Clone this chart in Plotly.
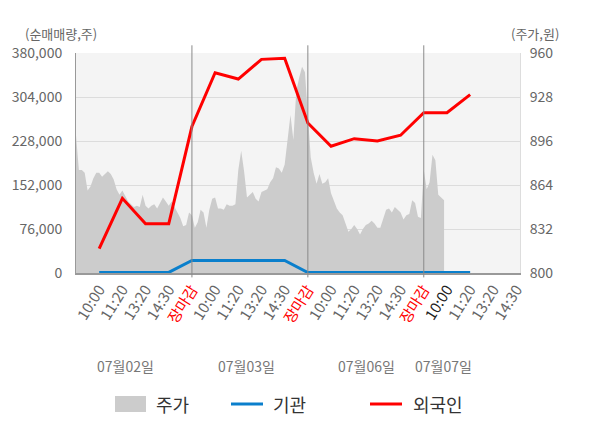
import numpy as np
import plotly.graph_objects as go

# x-axis slots (one per label) and the trading days
time_labels = ["10:00", "11:20", "13:20", "14:30", "장마감",
               "10:00", "11:20", "13:20", "14:30", "장마감",
               "10:00", "11:20", "13:20", "14:30", "장마감",
               "10:00", "11:20", "13:20", "14:30"]
dates = ["07월02일", "07월03일", "07월06일", "07월07일"]

# 순매매량 (주)
foreign = [42000, 129000, 85000, 85000, 253000, 346000, 335000, 369000, 371000,
           259000, 219000, 232000, 228000, 238000, 277000, 277000, 308000]
inst = [1000, 1000, 1000, 1000, 21600, 21600, 21600, 21600, 21600,
        800, 800, 800, 800, 800, 800, 800, 800]

# 주가 (원), sampled every 1/8 slot from the first day's open
price = [900, 875, 875, 873, 860, 863, 869, 873, 873, 870, 872, 874, 872, 868, 861, 857,
         860, 856, 852, 850, 848, 849, 848, 857, 849, 847, 849, 850, 847, 851, 855, 852,
         849, 852, 848, 844, 840, 834, 835, 844, 842, 833, 837, 846, 844, 833, 846, 854,
         855, 847, 847, 846, 850, 849, 849, 850, 875, 889, 874, 855, 857, 859, 854, 852,
         859, 860, 861, 866, 869, 877, 876, 873, 879, 897, 915, 897, 932, 942, 950, 946,
         911, 884, 873, 865, 872, 865, 866, 869, 858, 852, 847, 844, 842, 836, 830, 832,
         835, 832, 828, 832, 835, 836, 838, 836, 833, 833, 839, 846, 847, 844, 848, 846,
         844, 839, 842, 843, 853, 851, 841, 840, 875, 861, 866, 886, 882, 857, 855, 853]

slots = np.arange(len(time_labels))
price_x = np.arange(len(price)) * 0.125 - 1
line_x = slots[:len(foreign)]


def tick_style(i, lab):
    if lab == "장마감":
        return '<span style="color:#ff0000">%s</span>' % lab
    if i == 15:
        return '<span style="color:#222222">%s</span>' % lab
    return lab


ticktext = [tick_style(i, t) for i, t in enumerate(time_labels)]

fig = go.Figure()
fig.add_trace(go.Scatter(x=price_x, y=price, name="주가", mode="lines",
                         line=dict(width=0, color="#cccccc"), fill="tozeroy",
                         fillcolor="#cccccc", yaxis="y"))
fig.add_trace(go.Scatter(x=line_x, y=inst, name="기관", mode="lines",
                         line=dict(color="#0a7fcc", width=3), yaxis="y2"))
fig.add_trace(go.Scatter(x=line_x, y=foreign, name="외국인", mode="lines",
                         line=dict(color="#ff0000", width=3), yaxis="y2"))

# the page body adds 8px around the figure
OFF = 8
W, L, R = 444, 76, 80
H, T, B = 220, 53, 155


def px(xp):
    return (xp - L) / W


def py(yp):
    return (T + H - yp) / H


shapes = []
for s in [4, 9, 14]:
    shapes.append(dict(type="line", xref="x", yref="paper", x0=s, x1=s,
                       y0=-0.02, y1=1.035, line=dict(color="#8a8a8a", width=1)))

# legend drawn by hand
shapes.append(dict(type="rect", xref="paper", yref="paper", x0=px(115), x1=px(146),
                   y0=py(412), y1=py(396), fillcolor="#cccccc", line=dict(width=0)))
shapes.append(dict(type="line", xref="paper", yref="paper", x0=px(231), x1=px(263),
                   y0=py(404), y1=py(404), line=dict(color="#0a7fcc", width=3)))
shapes.append(dict(type="line", xref="paper", yref="paper", x0=px(370), x1=px(402),
                   y0=py(404), y1=py(404), line=dict(color="#ff0000", width=3)))

font = "Noto Sans CJK KR"
annotations = []
for name, xp in [("주가", 154), ("기관", 271), ("외국인", 411)]:
    annotations.append(dict(text=name, xref="paper", yref="paper", x=px(xp), y=py(404),
                            xanchor="left", yanchor="middle", showarrow=False,
                            font=dict(size=18, color="#333333", family=font)))
for d, s in zip(dates, [1.12, 6.34, 11.55, 14.83]):
    annotations.append(dict(text=d, xref="x", yref="paper", x=s, y=py(366),
                            xanchor="center", yanchor="middle", showarrow=False,
                            font=dict(size=14, color="#777777", family=font)))
annotations.append(dict(text="(순매매량,주)", xref="paper", yref="paper", x=px(61), y=py(33),
                        xanchor="center", yanchor="middle", showarrow=False,
                        font=dict(size=13, color="#666666", family=font)))
annotations.append(dict(text="(주가,원)", xref="paper", yref="paper", x=px(535), y=py(33),
                        xanchor="center", yanchor="middle", showarrow=False,
                        font=dict(size=13, color="#666666", family=font)))

fig.update_layout(
    width=600 - OFF, height=428 - OFF,
    margin=dict(l=L - OFF, r=R, t=T - OFF, b=B),
    paper_bgcolor="white", plot_bgcolor="#f4f4f4",
    showlegend=False,
    font=dict(family=font, color="#666666", size=14),
    xaxis=dict(range=[-1, 18.15], tickmode="array", tickvals=slots, ticktext=ticktext,
               tickangle=-58, showgrid=False, zeroline=False, showline=True,
               linecolor="#999999", linewidth=2, ticks="", tickfont=dict(size=15),
               automargin=False),
    yaxis=dict(side="right", range=[800, 960], tickvals=[800, 832, 864, 896, 928, 960],
               showgrid=True, gridcolor="#dcdcdc", zeroline=False, showline=True,
               linecolor="#dddddd", ticks="", ticklabelstandoff=6, automargin=False),
    yaxis2=dict(side="left", overlaying="y", range=[0, 380000],
                tickvals=[0, 76000, 152000, 228000, 304000, 380000], tickformat=",",
                showgrid=True, gridcolor="#dcdcdc", zeroline=False, showline=True,
                linecolor="#999999", ticks="", ticklabelstandoff=10, automargin=False),
    shapes=shapes,
    annotations=annotations,
)

fig.write_html("out.html")
